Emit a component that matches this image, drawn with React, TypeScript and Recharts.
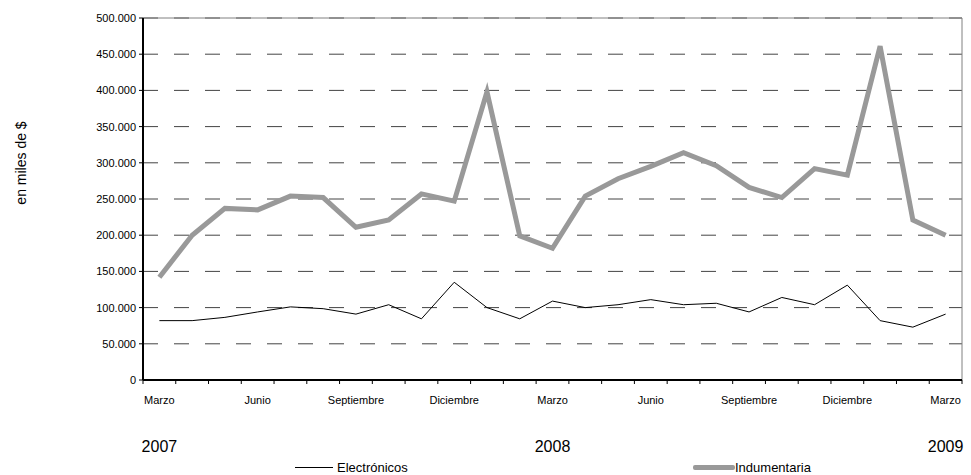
import { CartesianGrid, Label, Legend, Line, LineChart, ReferenceArea, XAxis, YAxis } from "recharts"

// meses de marzo 2007 a marzo 2009
const meses = [
  "Marzo", "Abril", "Mayo", "Junio", "Julio", "Agosto", "Septiembre", "Octubre", "Noviembre", "Diciembre", "Enero", "Febrero",
  "Marzo", "Abril", "Mayo", "Junio", "Julio", "Agosto", "Septiembre", "Octubre", "Noviembre", "Diciembre", "Enero", "Febrero",
  "Marzo",
]

// año que se rotula debajo de cada marzo
const anios: Record<number, string> = { 0: "2007", 12: "2008", 24: "2009" }

const electronicos = [
  82000, 82000, 86500, 94000, 101000, 98500, 91000, 104000, 84500, 135000, 100000, 84500,
  109000, 100000, 104000, 111000, 104000, 106000, 94000, 114000, 104000, 131000, 82000, 73000,
  91000,
]

const indumentaria = [
  142000, 200000, 237000, 235000, 254000, 252000, 211000, 221000, 257000, 247000, 398000, 199000,
  182000, 254000, 278000, 295000, 314000, 296000, 266000, 252000, 292000, 283000, 461000, 221000,
  200000,
]

const yTicks = [0, 50000, 100000, 150000, 200000, 250000, 300000, 350000, 400000, 450000, 500000]

const data = meses.map((mes, i) => ({
  idx: i,
  mes,
  electronicos: electronicos[i],
  indumentaria: indumentaria[i],
}))

// bordes de cada mes (marcas del eje) + centros de los meses rotulados
const xTicks: number[] = []
meses.forEach((_, i) => {
  xTicks.push(i - 0.5)
  if (i % 3 === 0) xTicks.push(i)
})
xTicks.push(meses.length - 0.5)

const fmtMiles = (v: number) => String(v).replace(/\B(?=(\d{3})+(?!\d))/g, ".")

function MesTick(props: any) {
  const { x, y, payload } = props
  const v = payload.value as number
  if (!Number.isInteger(v)) {
    return <line x1={x} y1={y} x2={x} y2={y + 4} stroke="#000" strokeWidth={1} />
  }
  return (
    <g>
      <text x={x} y={y + 24} textAnchor="middle" fontSize={11} fill="#000">
        {meses[v]}
      </text>
      {anios[v] && (
        <text x={x} y={y + 72} textAnchor="middle" fontSize={16} fill="#000">
          {anios[v]}
        </text>
      )}
    </g>
  )
}

function Leyenda() {
  return (
    <div style={{ position: "relative", width: 971, height: 25, fontSize: 13, color: "#000" }}>
      <div style={{ position: "absolute", left: 295, top: 10, display: "flex", alignItems: "center" }}>
        <span style={{ display: "inline-block", width: 38, height: 1, background: "#000" }} />
        <span style={{ marginLeft: 4 }}>Electrónicos</span>
      </div>
      <div style={{ position: "absolute", left: 693, top: 10, display: "flex", alignItems: "center" }}>
        <span style={{ display: "inline-block", width: 42, height: 5, background: "#999", borderRadius: 2 }} />
        <span>Indumentaria</span>
      </div>
    </div>
  )
}

export default function App() {
  return (
    <div style={{ position: "absolute", left: 0, top: 0, fontFamily: "'Liberation Sans', Arial, sans-serif" }}>
      <LineChart
        width={971}
        height={475}
        data={data}
        margin={{ top: 18, right: 9, left: 0, bottom: 0 }}
        style={{ fontFamily: "'Liberation Sans', Arial, sans-serif" }}
      >
        <CartesianGrid vertical={false} stroke="#444" strokeDasharray="15 16" />
        <ReferenceArea x1={-0.5} x2={24.5} y1={0} y2={500000} fill="none" stroke="#808080" strokeWidth={1} />
        <XAxis
          dataKey="idx"
          type="number"
          domain={[-0.5, 24.5]}
          ticks={xTicks}
          interval={0}
          tick={<MesTick />}
          tickLine={false}
          tickSize={0}
          tickMargin={0}
          axisLine={{ stroke: "#000", strokeWidth: 2 }}
          height={70}
        />
        <YAxis
          domain={[0, 500000]}
          ticks={yTicks}
          interval={0}
          tickFormatter={fmtMiles}
          tick={{ fontSize: 11, fill: "#000" }}
          tickLine={{ stroke: "#000" }}
          tickSize={4}
          tickMargin={3}
          axisLine={{ stroke: "#000", strokeWidth: 2 }}
          width={143}
        >
          <Label
            content={() => (
              <text x={26} y={163} transform="rotate(-90 26 163)" textAnchor="middle" fontSize={14} fill="#000">
                en miles de $
              </text>
            )}
          />
        </YAxis>
        <Legend verticalAlign="bottom" height={25} content={<Leyenda />} />
        <Line
          type="linear"
          dataKey="electronicos"
          name="Electrónicos"
          stroke="#000"
          strokeWidth={1}
          dot={false}
          isAnimationActive={false}
        />
        <Line
          type="linear"
          dataKey="indumentaria"
          name="Indumentaria"
          stroke="#999"
          strokeWidth={5}
          dot={false}
          isAnimationActive={false}
        />
      </LineChart>
    </div>
  )
}
